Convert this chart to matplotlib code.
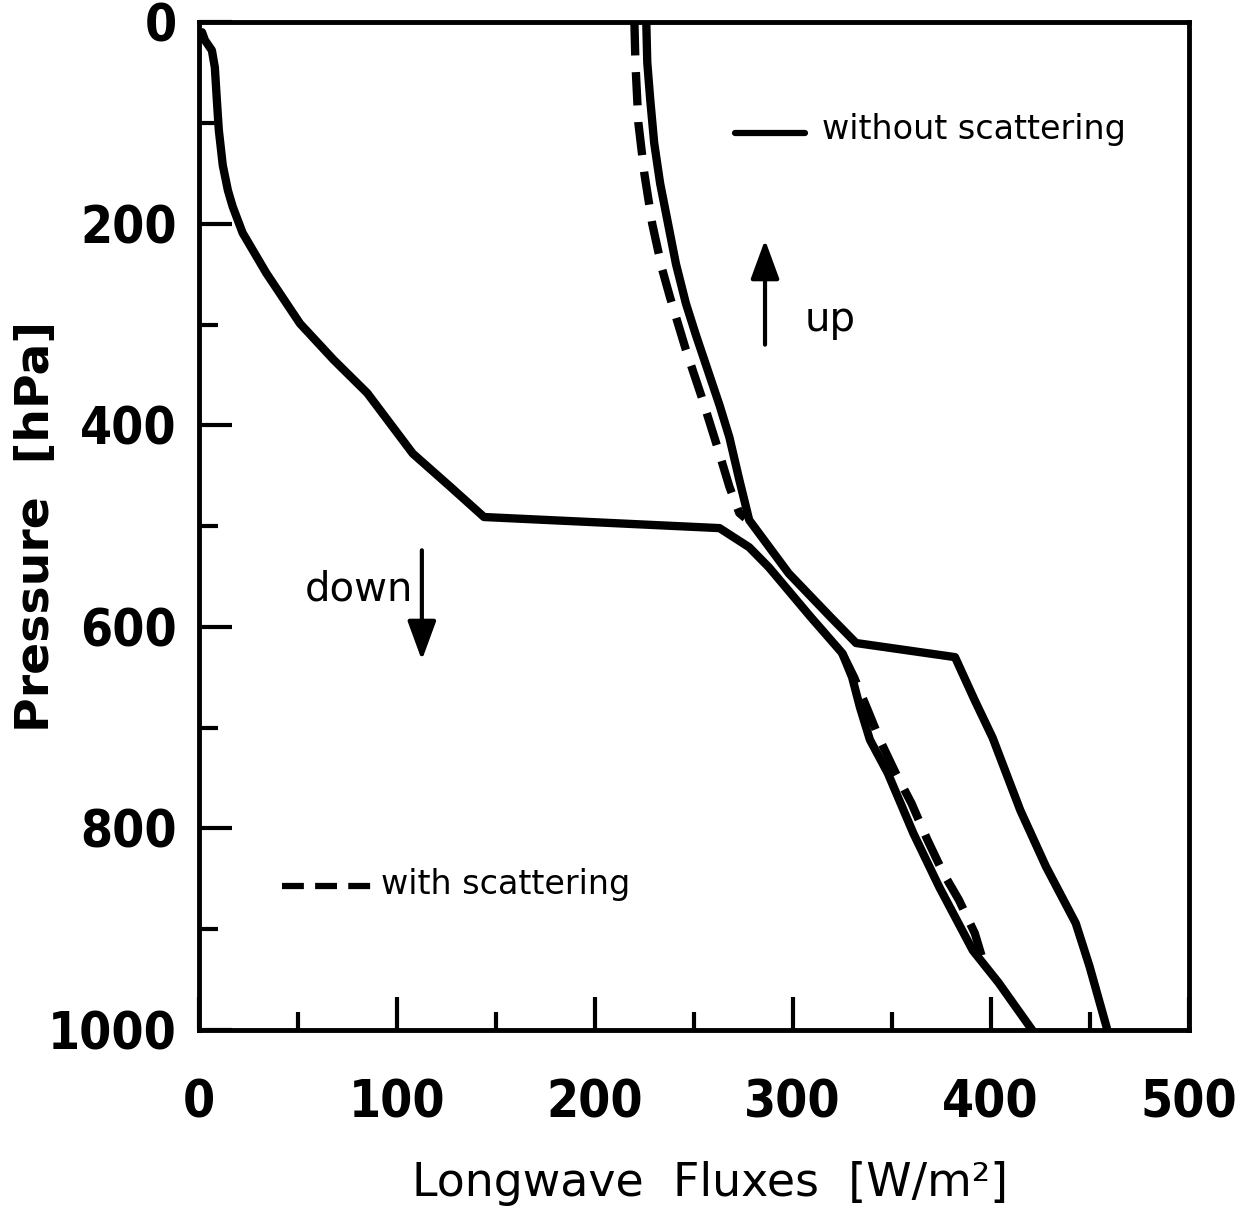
import numpy as np
import matplotlib.pyplot as plt
from matplotlib import font_manager
from matplotlib.font_manager import FontProperties
from matplotlib.ticker import MultipleLocator

# downward flux, no scattering
down_flux = [1.5, 3, 6.5, 8, 9, 10, 12, 14.6, 17, 22, 34, 51, 68, 85, 108, 127, 144,
             263, 278, 288, 309, 325, 330, 334, 339, 348, 361, 374, 391, 404, 421]
down_p = [10, 18, 28, 45, 77, 107, 142, 167, 183, 209, 249, 299, 335, 368, 428, 461, 491,
          502, 521, 541, 590, 626, 650, 680, 712, 745, 805, 858, 921, 953, 1000]

# upward flux, no scattering
up_flux = [226, 226.5, 228, 230, 233, 237, 241, 246, 251, 257, 263, 268, 273, 278,
           298, 319, 332, 382, 392, 401, 415, 428, 443, 450, 459]
up_p = [0, 40, 77, 120, 160, 200, 240, 279, 310, 345, 380, 412, 454, 494,
        547, 590, 616, 630, 673, 710, 782, 838, 894, 937, 1000]

# upward flux with scattering (above cloud)
up_sc_flux = [220, 220.5, 222, 225, 229, 234, 238, 246, 254, 262, 268, 273, 276]
up_sc_p = [0, 40, 100, 150, 200, 245, 273, 325, 372, 422, 461, 487, 492]

# downward flux with scattering (below cloud)
down_sc_flux = [325, 331, 338, 344, 352, 360, 368, 376, 384, 392, 396]
down_sc_p = [626, 650, 683, 712, 745, 775, 811, 844, 871, 904, 930]

text_font = ['DejaVu Sans']

# look for a narrow bold face for the tick numbers
narrow = None
for f in font_manager.fontManager.ttflist:
    ok_name = f.name in ('Roboto Condensed', 'Liberation Sans Narrow', 'Open Sans Condensed')
    ok_cond = f.name in ('DejaVu Sans', 'Noto Sans', 'Roboto', 'Open Sans') and f.stretch in ('condensed', 'semi-condensed')
    if (ok_name or ok_cond) and f.weight in (600, 700, 'bold', 'semibold') and 'Italic' not in f.fname and 'Oblique' not in f.fname:
        narrow = f.fname
        break
if narrow:
    tick_prop = FontProperties(fname=narrow, size=37)
else:
    tick_prop = FontProperties(family='DejaVu Sans', weight='bold', size=31)

fig = plt.figure(figsize=(12.4, 12.09), dpi=100)
ax = fig.add_axes([0.1605, 0.148, 0.798, 0.8337])

lw = 6
ax.plot(down_flux, down_p, color='k', lw=lw, solid_joinstyle='round', solid_capstyle='round')
ax.plot(up_flux, up_p, color='k', lw=lw, solid_joinstyle='round', solid_capstyle='round')
ax.plot(up_sc_flux, up_sc_p, color='k', lw=lw, linestyle=(0, (4, 2)))
ax.plot(down_sc_flux, down_sc_p, color='k', lw=lw, linestyle=(0, (4, 2)))

ax.set_xlim(0, 500)
ax.set_ylim(1000, 0)

ax.xaxis.set_major_locator(MultipleLocator(100))
ax.xaxis.set_minor_locator(MultipleLocator(50))
ax.yaxis.set_major_locator(MultipleLocator(200))
ax.yaxis.set_minor_locator(MultipleLocator(100))

ax.tick_params(which='both', direction='in', top=False, right=False, width=3, color='k')
ax.tick_params(axis='x', which='major', length=24, pad=35)
ax.tick_params(axis='x', which='minor', length=13)
ax.tick_params(axis='y', which='major', length=24, pad=16)
ax.tick_params(axis='y', which='minor', length=14)

for lab in ax.get_xticklabels() + ax.get_yticklabels():
    lab.set_fontproperties(tick_prop)

for s in ax.spines.values():
    s.set_linewidth(3.5)

ax.set_xlabel('Longwave  Fluxes  [W/m²]', family=text_font, fontsize=33)
ax.xaxis.label.set_va('center')
ax.xaxis.set_label_coords(0.516, -0.152)
ax.set_ylabel('Pressure  [hPa]', family=text_font, fontsize=34, fontweight='bold')
ax.yaxis.label.set_va('center')
ax.yaxis.set_label_coords(-0.164, 0.5)

# key
ax.plot([271, 306], [110, 110], color='k', lw=4.5, solid_capstyle='round')
ax.text(315, 107, 'without scattering', family=text_font, fontsize=24, va='center')
ax.plot([42, 87], [857, 857], color='k', lw=4.5, linestyle=(0, (3.5, 1.8)))
ax.text(92, 856, 'with scattering', family=text_font, fontsize=24, va='center')

# direction arrows
arrow = dict(arrowstyle='-|>,head_length=0.6,head_width=0.22', lw=3, color='k',
             mutation_scale=40, shrinkA=0, shrinkB=0)
ax.annotate('', xy=(286, 216), xytext=(286, 320), arrowprops=arrow)
ax.text(306, 296, 'up', family=text_font, fontsize=29, va='center')
ax.annotate('', xy=(112.6, 633), xytext=(112.6, 524), arrowprops=arrow)
ax.text(53.5, 563, 'down', family=text_font, fontsize=29, va='center')

fig.savefig('out.png', dpi=100, facecolor='white')
